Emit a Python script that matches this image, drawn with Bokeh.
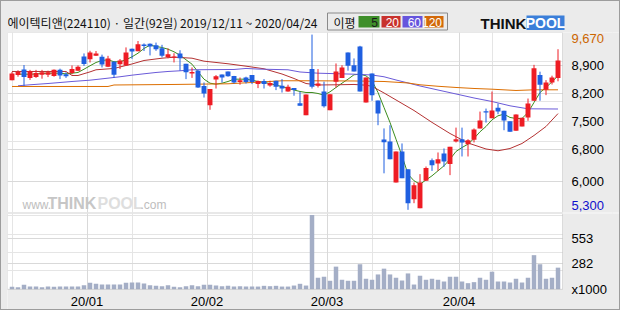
import numpy as np
from bokeh.plotting import figure
from bokeh.layouts import column
from bokeh.models import Range1d, FixedTicker, Grid, BoxAnnotation
from bokeh.core.properties import value
from bokeh.embed import file_html
from bokeh.resources import INLINE

# ---------------- data ----------------
title_text = "에이텍티앤(224110) · 일간(92일) 2019/12/11 ~ 2020/04/24"
ma_labels = ["5", "20", "60", "120"]
month_labels = ["20/01", "20/02", "20/03", "20/04"]
month_start_idx = [13, 33, 53, 75]          # first trading day of each month
price_ticks = [8900, 8200, 7500, 6800, 6000]
price_high = 9670
price_low = 5300
volume_ticks = [282, 553]
volume_unit = "x1000"

opens = [8530, 8660, 8800, 8585, 8610, 8670, 8670, 8635, 8790, 8680,
         8710, 8770, 9125, 9057, 9140, 9115, 8870, 8990, 8930, 8900,
         9315, 9255, 9420, 9440, 9405, 9330, 9110, 9090, 9200, 8940,
         8700, 8765, 8385, 7910, 8550, 8675, 8750, 8640, 8490, 8600,
         8660, 8435, 8510, 8400, 8520, 8395, 8250, 8335, 7960, 7660,
         8810, 8395, 8250, 7785, 8495, 8585, 9225, 8905, 9375, 7975,
         8700, 8025, 7055, 7005, 5980, 6755, 6310, 5565, 5340, 6025,
         6535, 6455, 6705, 6440, 7005, 7060, 6935, 7045, 7330, 7760,
         7585, 7845, 7770, 7510, 7270, 7380, 7605, 8020, 8660, 8295,
         8475, 8585]
highs = [8740, 8780, 8910, 8790, 8790, 8790, 8770, 8800, 8820, 8730,
         8900, 8900, 9200, 9266, 9260, 9170, 9140, 9010, 9060, 9350,
         9320, 9510, 9450, 9450, 9470, 9415, 9325, 9205, 9280, 8940,
         8850, 8790, 8475, 8310, 8660, 8675, 8750, 8640, 8600, 8620,
         8660, 8525, 8560, 8520, 8520, 8560, 8420, 8335, 8245, 8175,
         9670, 8810, 8495, 8185, 8950, 8905, 9225, 9075, 9390, 8600,
         8700, 8025, 7330, 7410, 6755, 6955, 6310, 5980, 6190, 6380,
         6580, 6730, 6830, 6870, 7350, 7350, 7060, 7330, 7750, 7825,
         8250, 7950, 7770, 7510, 7680, 7595, 8075, 8915, 8745, 8535,
         8645, 9305]
lows = [8530, 8620, 8390, 8540, 8590, 8570, 8610, 8620, 8560, 8590,
        8680, 8760, 8890, 8974, 9140, 8850, 8860, 8590, 8810, 8900,
        9065, 9255, 9260, 9150, 9265, 9100, 9080, 8975, 8770, 8560,
        8590, 8340, 8100, 7795, 8325, 8475, 8620, 8450, 8420, 8450,
        8435, 8335, 8325, 8370, 8285, 8225, 8245, 8145, 7895, 7660,
        8325, 8350, 7850, 7785, 8350, 8585, 8770, 8750, 8250, 7975,
        8020, 7410, 6210, 6560, 5980, 6090, 5300, 5465, 5340, 6025,
        6270, 6270, 6375, 6165, 6980, 6630, 6630, 6980, 7330, 7475,
        7585, 7685, 7285, 7245, 7270, 7380, 7520, 8020, 8020, 8160,
        8425, 8505]
closes = [8700, 8740, 8610, 8755, 8710, 8730, 8730, 8790, 8650, 8630,
          8810, 8870, 8935, 9224, 9200, 8925, 9075, 8670, 9025, 9224,
          9250, 9430, 9385, 9375, 9305, 9140, 9180, 9125, 9080, 8730,
          8740, 8350, 8200, 8310, 8630, 8600, 8630, 8475, 8530, 8490,
          8490, 8510, 8435, 8460, 8370, 8325, 8370, 8285, 7895, 8175,
          8370, 8450, 7880, 8185, 8750, 8850, 8895, 8750, 8250, 8600,
          8160, 7700, 6985, 6560, 6755, 6090, 5465, 5915, 5980, 6340,
          6410, 6560, 6505, 6870, 7060, 6980, 7035, 7305, 7530, 7730,
          7775, 7750, 7530, 7245, 7680, 7595, 7950, 8830, 8420, 8475,
          8600, 9025]
volumes = [26, 22, 48, 29, 29, 22, 29, 26, 29, 29,
           29, 29, 44, 70, 59, 52, 52, 52, 52, 70,
           73, 73, 62, 44, 37, 33, 44, 26, 22, 33,
           44, 33, 48, 48, 40, 33, 37, 29, 33, 29,
           29, 29, 37, 33, 37, 29, 29, 40, 59, 40,
           808, 125, 136, 92, 246, 103, 92, 92, 272, 114,
           103, 161, 224, 161, 125, 95, 172, 51, 147, 103,
           114, 103, 84, 136, 136, 84, 66, 77, 125, 103,
           191, 84, 84, 73, 114, 73, 125, 371, 272, 114,
           125, 235]

ma5 = [np.nan, 8682, 8682, 8682, 8687, 8700, 8707, 8707, 8707, 8690,
       8707, 8725, 8807, 8892, 8974, 9024, 9042, 8992, 8992, 9042,
       9116, 9206, 9323, 9406, 9373, 9348, 9306, 9241, 9156, 9042,
       8932, 8742, 8558, 8458, 8433, 8458, 8500, 8558, 8558, 8558,
       8533, 8500, 8475, 8450, 8408, 8376, 8326, 8288, 8251, 8226,
       8226, 8201, 8159, 8243, 8351, 8458, 8558, 8668, 8682, 8642,
       8518, 8226, 7852, 7478, 7061, 6647, 6188, 6024, 5939, 6044,
       6148, 6273, 6398, 6562, 6755, 6854, 6937, 7079, 7246, 7378,
       7545, 7645, 7685, 7603, 7578, 7578, 7727, 7977, 8226, 8351,
       8493, 8643]
ma20_days = [0, 9, 10, 11, 13, 14, 17, 20, 22, 25, 27, 30, 32, 36, 39, 42,
             45, 47, 49, 51, 54, 57, 59, 60, 62, 64, 67, 70, 73, 76, 79,
             81, 83, 85, 87, 89, 91]
ma20 = [8750, 8750, 8650, 8650, 8740, 8792, 8825, 8937, 9024, 9081, 9106,
        9081, 9007, 8942, 8882, 8817, 8687, 8575, 8450, 8413, 8418, 8426,
        8408, 8380, 8214, 8040, 7777, 7480, 7203, 6967, 6817, 6772, 6829,
        6954, 7154, 7378, 7700]
ma60_days = [1, 3, 6, 8, 10, 13, 16, 18, 20, 22, 24, 26, 28, 30, 37, 39, 41,
             46, 48, 51, 57, 60, 62, 64, 66, 68, 71, 74, 77, 80, 83, 86, 91]
ma60 = [8393, 8418, 8450, 8475, 8500, 8533, 8583, 8618, 8658, 8692, 8725,
        8750, 8767, 8792, 8800, 8825, 8810, 8792, 8737, 8707, 8682, 8662,
        8618, 8538, 8463, 8388, 8288, 8189, 8089, 8001, 7894, 7819, 7814]
ma120_days = [0, 16, 17, 27, 36, 40, 45, 49, 57, 62, 66, 68, 71, 74, 77, 80,
              84, 87, 91]
ma120 = [8376, 8376, 8413, 8426, 8443, 8475, 8518, 8518, 8513, 8500, 8463,
         8418, 8381, 8351, 8326, 8308, 8276, 8293, 8293]

# ---------------- style ----------------
BG = "#ebebeb"
GRID = "#d9d9d9"
FRAME = "#a0a0a0"
UP = "#ee1c24"
DOWN = "#1f5fe0"
VOL = "#a4aec6"
MA_COLORS = ["#3c8c1e", "#b43232", "#6a5ad8", "#dc6e00"]
LEGEND_COLORS = ["#3f8f2a", "#c8322d", "#6655dd", "#d2690a"]
NUM_FONT = "Liberation Sans"
W = 618
X0, X1 = -0.75, 91.75          # plotting area in day units
XR = Range1d(-0.75, 101.25)    # frame also covers the label column on the right
LAB_X = 93.25                  # x of right-hand labels (day units)

n = len(closes)
idx = np.arange(n)
o = np.array(opens, float); c = np.array(closes, float)
colors = [UP if u else DOWN for u in (c >= o)]
body_top = np.maximum(o, c)
body_bot = np.minimum(o, c)
month_bounds = [m - 0.5 for m in month_start_idx]


def panel(height, y_range):
    p = figure(width=W, height=height, x_range=XR, y_range=y_range,
               output_backend="svg", toolbar_location=None, tools="",
               x_axis_location=None, y_axis_location=None,
               min_border_left=6, min_border_right=0,
               min_border_top=0, min_border_bottom=0)
    p.background_fill_color = "white"
    p.border_fill_color = BG
    p.outline_line_color = None
    return p


def grids(p, yticks):
    p.add_layout(Grid(dimension=0, ticker=FixedTicker(ticks=month_bounds),
                      grid_line_color=GRID, grid_line_width=1))
    p.add_layout(Grid(dimension=1, ticker=FixedTicker(ticks=yticks),
                      grid_line_color=GRID, grid_line_width=1))
    # grey label column to the right of the plotting area
    p.add_layout(BoxAnnotation(left=X1, fill_color=BG, fill_alpha=1, line_alpha=0, level="underlay"))


def num_text(p, y, labels, color="#000000", y_offset=0):
    p.text(x=[LAB_X] * len(y), y=y, text=labels, text_font=value(NUM_FONT),
           text_font_size="13px", text_baseline="middle", text_align="left",
           text_color=color, y_offset=y_offset)


# ---------------- header ----------------
h = figure(width=W, height=30, x_range=Range1d(7, 619), y_range=Range1d(31, 1),
           output_backend="svg", toolbar_location=None, tools="",
           x_axis_location=None, y_axis_location=None,
           min_border_left=6, min_border_right=0, min_border_top=0, min_border_bottom=0)
h.background_fill_color = BG
h.border_fill_color = BG
h.outline_line_color = None
h.grid.visible = False

h.text(x=[7], y=[21.5], text=[title_text], text_font=value("Noto Sans CJK KR"),
       text_font_size="12px", text_baseline="middle", text_align="left", text_color="#111111")
h.quad(left=[327], right=[447], top=[12.5], bottom=[29.5], fill_color=None, line_color="#8a8a8a")
h.text(x=[333], y=[21.5], text=["이평"], text_font=value("Noto Sans CJK KR"),
       text_font_size="12px", text_baseline="middle", text_color="#111111")
lx0 = [358, 381, 402, 424]
lx1 = [379, 400, 422, 443]
h.quad(left=lx0, right=lx1, top=[15.5] * 4, bottom=[27] * 4, fill_color=LEGEND_COLORS, line_color=None)
h.text(x=[r - 1.5 for r in lx1], y=[21.7] * 4, text=ma_labels, text_font=value(NUM_FONT),
       text_font_size="12px", text_baseline="middle", text_align="right",
       text_color=["#1a1a1a", "white", "white", "white"])
h.text(x=[480], y=[22.5], text=["THINK"], text_font=value("Liberation Sans"), text_font_style="bold",
       text_font_size="15px", text_baseline="middle", text_color="#111111")
h.quad(left=[526], right=[564], top=[15], bottom=[29.5], fill_color="#3b7fd9", line_color=None)
h.text(x=[545], y=[22.5], text=["POOL"], text_font=value("Liberation Sans"), text_font_style="bold",
       text_font_size="14px", text_baseline="middle", text_align="center", text_color="white")

# ---------------- price panel (frame = page rows 32..212) ----------------
p1 = panel(182, Range1d(5233, 9722))
p1.min_border_top = 1
p1.min_border_bottom = 1
grids(p1, price_ticks)


def px2x(px):
    return (px - 11.5) / 6.0


def py2y(py):
    return 9722 - (py - 32) * 24.94


# watermark
p1.text(x=[px2x(22)], y=[py2y(204)], text=["www."], text_font=value("Liberation Sans"),
        text_font_size="12px", text_baseline="middle", text_color="#bdbdbd")
p1.text(x=[px2x(47)], y=[py2y(203)], text=["THINK"], text_font=value("Liberation Sans"),
        text_font_style="bold", text_font_size="16px", text_baseline="middle", text_color="#c6c6c6")
p1.text(x=[px2x(97)], y=[py2y(203)], text=["POOL"], text_font=value("Liberation Sans"),
        text_font_style="bold", text_font_size="16px", text_baseline="middle", text_color="#dedede")
p1.text(x=[px2x(140)], y=[py2y(204)], text=[".com"], text_font=value("Liberation Sans"),
        text_font_size="12px", text_baseline="middle", text_color="#bdbdbd")

p1.line(x=list(idx), y=ma5, color=MA_COLORS[0], line_width=1)
p1.line(x=ma20_days, y=ma20, color=MA_COLORS[1], line_width=1)
p1.line(x=ma60_days, y=ma60, color=MA_COLORS[2], line_width=1)
p1.line(x=ma120_days, y=ma120, color=MA_COLORS[3], line_width=1)

p1.segment(x0=idx, y0=lows, x1=idx, y1=highs, color=colors, line_width=1)
p1.vbar(x=idx, width=0.82, top=body_top, bottom=body_bot, fill_color=colors, line_color=None)

p1.add_layout(BoxAnnotation(left=X0, right=X1, fill_alpha=0, line_color=FRAME, line_width=1, level="overlay"))

num_text(p1, price_ticks, [f"{v:,}" for v in price_ticks])
num_text(p1, [price_high], [f"{price_high:,}"], color="#cc6600", y_offset=4)
num_text(p1, [price_low], [f"{price_low:,}"], color="#1010cc", y_offset=-4)

# ---------------- volume panel (frame = page rows 213..308) ----------------
p2 = panel(96, Range1d(-221, 825))
grids(p2, volume_ticks)
p2.add_layout(BoxAnnotation(top=-1, fill_color=BG, fill_alpha=1, line_alpha=0, level="underlay"))
p2.vbar(x=idx, width=0.75, top=volumes, bottom=0, fill_color=VOL, line_color=None)
p2.add_layout(BoxAnnotation(left=X0, right=X1, bottom=-1, fill_alpha=0, line_color=FRAME,
                            line_width=1, level="overlay"))
num_text(p2, volume_ticks, [str(v) for v in volume_ticks])
num_text(p2, [0], [volume_unit])
p2.text(x=month_bounds, y=[-133] * len(month_bounds), text=month_labels, text_font=value(NUM_FONT),
        text_font_size="13px", text_baseline="middle", text_align="center", text_color="#000000")

layout = column(h, p1, p2, spacing=0,
                styles={"border": "1px solid #9c9c9c", "background-color": BG})

open("out.html", "w").write(file_html(layout, INLINE))
